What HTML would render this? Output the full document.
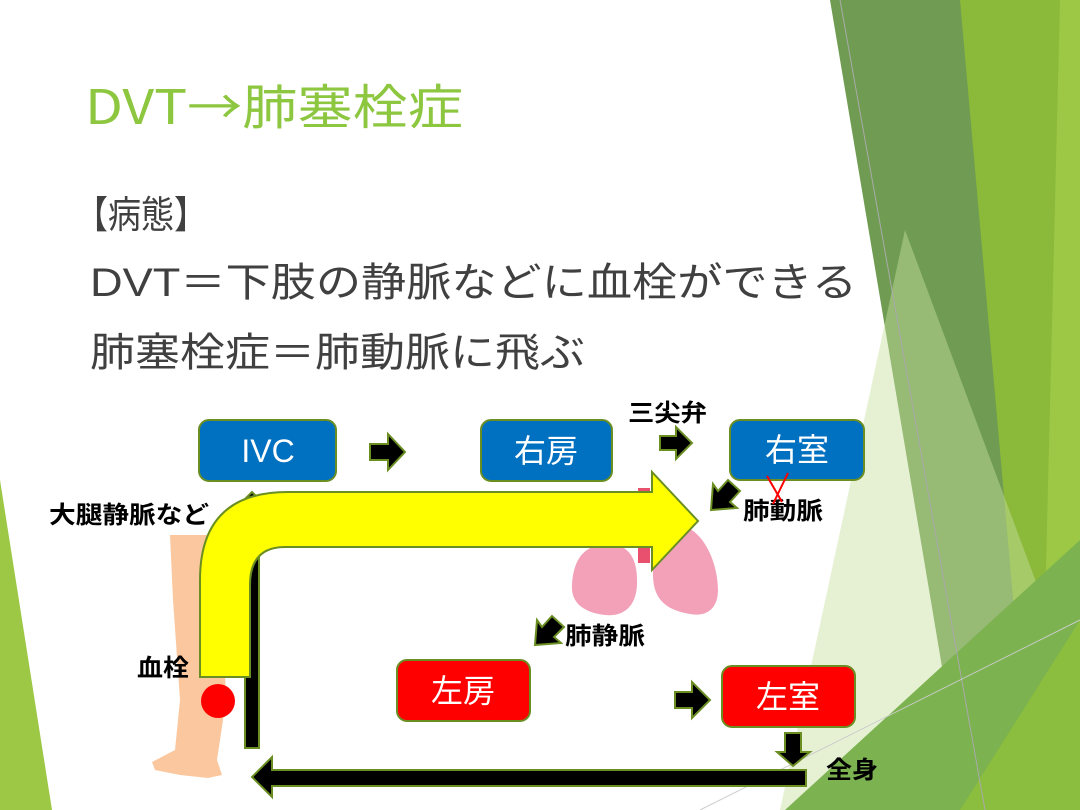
<!DOCTYPE html>
<html><head><meta charset="utf-8"><style>
html,body{margin:0;padding:0;background:#fff;}
svg{display:block;}
</style></head><body>
<svg width="1080" height="810" viewBox="0 0 1080 810" xmlns="http://www.w3.org/2000/svg">
<!-- background decorations -->
<polygon points="955,0 1080,0 1080,810 1000,810" fill="#8bb93a"/>
<polygon points="1060,0 1080,0 1080,810 1040,810" fill="#9cc845"/>
<polygon points="830,0 960,0 1015,620 990,810 966,810" fill="#6f9c52"/>
<polygon points="905,230 1080,700 1080,810 780,810" fill="#c7e0a0" opacity="0.45"/>
<polygon points="785,810 1080,540 1080,810" fill="#7cb24f"/>
<polygon points="960,810 1080,620 1080,810" fill="#8fbf3a" opacity="0.8"/>
<line x1="840" y1="0" x2="985" y2="810" stroke="#aaa" stroke-width="1"/>
<line x1="700" y1="810" x2="1080" y2="620" stroke="#ccc" stroke-width="1"/>
<polygon points="0,480 52,810 0,810" fill="#9cc845"/>

<!-- title & text -->
<text x="85" y="124" font-family="'Noto Sans CJK JP',sans-serif" font-size="48" fill="#8dc63f" textLength="378" lengthAdjust="spacingAndGlyphs">DVT→肺塞栓症</text>
<text x="75" y="228" font-family="'Noto Sans CJK JP',sans-serif" font-size="38" fill="#404040" textLength="132" lengthAdjust="spacingAndGlyphs">【病態】</text>
<text x="90" y="296" font-family="'Liberation Sans','Noto Sans CJK JP',sans-serif" font-size="40" fill="#404040" textLength="767" lengthAdjust="spacingAndGlyphs">DVT＝下肢の静脈などに血栓ができる</text>
<text x="90" y="366" font-family="'Noto Sans CJK JP',sans-serif" font-size="40" fill="#404040" textLength="495" lengthAdjust="spacingAndGlyphs">肺塞栓症＝肺動脈に飛ぶ</text>

<!-- leg -->
<path d="M170,535 L215,535 L222,600 L226,700 L217,760 L222,775 L208,778 L180,775 L155,770 L152,762 L175,750 L180,700 L173,600 Z" fill="#fbc79e"/>
<!-- lungs -->
<rect x="638" y="488" width="12" height="10" fill="#e8506e"/>
<rect x="638" y="545" width="12" height="18" fill="#e8506e"/>
<path d="M600,545 C630,540 638,560 637,585 C636,605 625,617 605,615 C580,612 571,600 572,585 C573,565 580,548 600,545 Z" fill="#f2a1b8"/>
<path d="M680,525 C705,530 718,565 718,590 C718,610 705,617 690,614 C665,610 653,598 653,575 C653,550 660,525 680,525 Z" fill="#f2a1b8"/>

<!-- boxes -->
<g font-family="'Liberation Sans','Noto Sans CJK JP',sans-serif" font-size="32" fill="#fff" text-anchor="middle">
<rect x="199" y="420" width="137" height="61" rx="10" fill="#0070c0" stroke="#6b8e23" stroke-width="2"/>
<text x="268" y="462">IVC</text>
<rect x="481" y="420" width="131" height="61" rx="10" fill="#0070c0" stroke="#6b8e23" stroke-width="2"/>
<text x="546" y="462">右房</text>
<rect x="730" y="420" width="134" height="60" rx="10" fill="#0070c0" stroke="#6b8e23" stroke-width="2"/>
<text x="797" y="461">右室</text>
<rect x="397" y="660" width="133" height="61" rx="10" fill="#ff0000" stroke="#6b8e23" stroke-width="2"/>
<text x="463" y="702">左房</text>
<rect x="722" y="666" width="133" height="61" rx="10" fill="#ff0000" stroke="#6b8e23" stroke-width="2"/>
<text x="788" y="708">左室</text>
</g>

<!-- black block arrows -->
<g fill="#000" stroke="#6b8e23" stroke-width="2">
<polygon points="370,444 388,444 388,434 405,452 388,470 388,460 370,460"/>
<polygon points="660,436 676,436 676,427 692,443 676,459 676,450 660,450"/>
<polygon points="675,692 692,692 692,682 710,700 692,718 692,708 675,708"/>
<polygon points="785,733 801,733 801,752 810,752 793,766 777,752 785,752"/>
<polygon points="740,491 728,480 718,491 713,484 711,510 737,508 730,502"/>
<polygon points="564,627 552,616 542,627 537,620 535,645 561,643 554,637"/>
<polygon points="245,748 259,748 259,505 265,505 252,492 239,505 245,505"/>
<polygon points="806,770 806,786 272,786 272,797 252,777 272,757 272,770"/>
</g>

<!-- yellow bent arrow -->
<path d="M200,677 L200,580 Q200,492 288,492 L652,492 L652,472 L698,521 L652,570 L652,547 L285,547 Q250,547 250,585 L250,677 Z" fill="#ffff00" stroke="#6b8e23" stroke-width="2"/>

<!-- red clot -->
<circle cx="218" cy="701" r="17" fill="#ff0000"/>

<!-- labels -->
<g font-family="'Noto Sans CJK JP',sans-serif" font-size="24" font-weight="bold" fill="#000">
<text x="49" y="523" textLength="160" lengthAdjust="spacingAndGlyphs">大腿静脈など</text>
<text x="137" y="676" textLength="52" lengthAdjust="spacingAndGlyphs">血栓</text>
<text x="628" y="421" textLength="79" lengthAdjust="spacingAndGlyphs">三尖弁</text>
<text x="743" y="519" textLength="80" lengthAdjust="spacingAndGlyphs">肺動脈</text>
<text x="565" y="644" textLength="80" lengthAdjust="spacingAndGlyphs">肺静脈</text>
<text x="826" y="778" textLength="52" lengthAdjust="spacingAndGlyphs">全身</text>
</g>
<!-- red X -->
<line x1="767" y1="476" x2="782" y2="502" stroke="#f00" stroke-width="2"/>
<line x1="788" y1="473" x2="773" y2="504" stroke="#f00" stroke-width="2"/>
</svg>
</body></html>
